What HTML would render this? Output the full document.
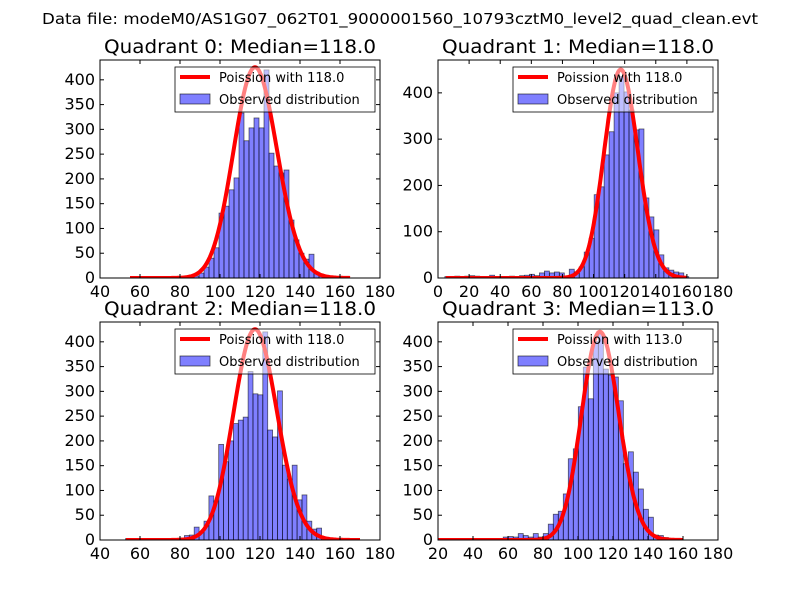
<!DOCTYPE html>
<html><head><meta charset="utf-8"><style>
body{margin:0;background:#fff}
svg{display:block}
text{font-family:"DejaVu Sans","Liberation Sans",sans-serif}
</style></head><body>
<svg id="fig" width="800" height="600" viewBox="0 0 800 600">
<rect width="800" height="600" fill="#fff"/>
<text x="400" y="24" font-size="15" text-anchor="middle" textLength="716" lengthAdjust="spacingAndGlyphs">Data file: modeM0/AS1G07_062T01_9000001560_10793cztM0_level2_quad_clean.evt</text>
</svg>
<script>
// Quadrant 0
const q0Start = 57, q0Width = 2.5;
const q0Counts = [2,0,1,3,1,0,2,1,3,2,4,3,4,10,22,40,61,131,145,178,202,333,277,303,323,303,420,252,226,212,218,117,77,50,38,48,12,6,2];
// Quadrant 1
const q1Start = 4.4, q1Width = 3.2;
const q1Counts = [3,2,4,1,4,5,4,2,0,6,3,2,1,4,3,5,6,8,5,11,15,11,13,11,4,19,13,24,56,86,180,197,266,316,400,435,402,363,320,322,173,132,104,50,22,17,13,11,3];
// Quadrant 2
const q2Start = 52.8, q2Width = 2.45;
const q2Counts = [3,2,1,2,1,3,2,1,2,3,1,4,9,10,26,16,38,89,79,193,158,200,235,242,248,340,295,293,420,222,208,301,151,123,151,81,91,38,22,24,4,2,1];
// Quadrant 3
const q3Start = 20.1, q3Width = 2.86;
const q3Counts = [2,1,1,2,1,1,2,1,1,2,1,2,1,6,7,6,13,9,6,13,6,13,32,52,58,93,164,184,269,349,285,400,416,345,333,329,281,154,178,137,103,62,46,10,9,5];
// model
const medians = [118, 118, 118, 113];
const peakCounts = [425, 450, 425, 420];
const curveRanges = [[55,165],[5,160],[53,170],[20,160]];
const titles = ["Quadrant 0: Median=118.0","Quadrant 1: Median=118.0","Quadrant 2: Median=118.0","Quadrant 3: Median=113.0"];
const xTicks = [[40,60,80,100,120,140,160,180],[0,20,40,60,80,100,120,140,160,180],[40,60,80,100,120,140,160,180],[20,40,60,80,100,120,140,160,180]];
const yTicks = [[0,50,100,150,200,250,300,350,400],[0,100,200,300,400],[0,50,100,150,200,250,300,350,400],[0,50,100,150,200,250,300,350,400]];
const xDomains = [[40,180],[0,180],[40,180],[20,180]];
const yMax = [440, 471, 440, 440];

const NS = "http://www.w3.org/2000/svg";
const fig = document.getElementById('fig');
function mk(tag, attrs, parent){const e=document.createElementNS(NS,tag);for(const k in attrs)e.setAttribute(k,attrs[k]);(parent||fig).appendChild(e);return e;}
function logPois(k,m){
  function lgamma(z){return (z-0.5)*Math.log(z)-z+0.5*Math.log(2*Math.PI)+1/(12*z);}
  return k*Math.log(m)-m-lgamma(k+1);
}
const boxes = [[100,60,380,278],[438,60,718,278],[100,322,380,540],[438,322,718,540]];
const data = [[q0Start,q0Width,q0Counts],[q1Start,q1Width,q1Counts],[q2Start,q2Width,q2Counts],[q3Start,q3Width,q3Counts]];

for(let p=0;p<4;p++){
  const [L,T,R,B]=boxes[p];
  const [x0,x1]=xDomains[p];
  const sx=v=>L+(v-x0)/(x1-x0)*(R-L);
  const sy=v=>B-v/yMax[p]*(B-T);
  const g=mk('g',{});
  
  
  const t=mk('text',{x:(L+R)/2,y:T-7,'font-size':19,'text-anchor':'middle',textLength:272,lengthAdjust:'spacingAndGlyphs'},g);
  t.textContent=titles[p];
  
  
  const clip=mk('clipPath',{id:'c'+p},g);mk('rect',{x:L,y:T,width:R-L,height:B-T},clip);
  const bars=mk('g',{'clip-path':'url(#c'+p+')'},g);
  const [st,w,cnt]=data[p];
  cnt.forEach((c,i)=>{
    const a=st+i*w;
    const r=mk('rect',{x:sx(a),y:sy(c),width:sx(a+w)-sx(a),height:sy(0)-sy(c),fill:'rgba(0,0,255,0.5)',stroke:'rgba(0,0,0,0.6)','stroke-width':0.8},bars);
    
    
  });
  const m=medians[p];const peak=Math.exp(logPois(m,m));
  let d='';
  for(let k=curveRanges[p][0];k<=curveRanges[p][1];k+=0.5){
    const v=Math.exp(logPois(k,m))/peak*peakCounts[p];
    d+=(d?'L':'M')+sx(k).toFixed(1)+','+sy(v).toFixed(1);
  }
  const ln=mk('path',{d:d,fill:'none',stroke:'#f00','stroke-width':4,'stroke-linejoin':'round'},bars);
  
  
  const fr=mk('rect',{x:L,y:T,width:R-L,height:B-T,fill:'none',stroke:'#000','stroke-width':1},g);
  
  
  xTicks[p].forEach(v=>{
    const x=sx(v);
    mk('line',{x1:x,x2:x,y1:B,y2:B-4,stroke:'#000'},g);
    mk('line',{x1:x,x2:x,y1:T,y2:T+4,stroke:'#000'},g);
    const tl=mk('text',{x:x,y:B+19,'font-size':16,'text-anchor':'middle'},g);
    tl.textContent=v;
    
    
  });
  yTicks[p].forEach(v=>{
    const y=sy(v);
    mk('line',{x1:L,x2:L+4,y1:y,y2:y,stroke:'#000'},g);
    mk('line',{x1:R,x2:R-4,y1:y,y2:y,stroke:'#000'},g);
    const tl=mk('text',{x:L-5,y:y+5,'font-size':16,'text-anchor':'end'},g);
    tl.textContent=v;
    
    
  });
  const lx=L+75, ly=T+7;
  const lg=mk('g',{},g);
  
  
  mk('rect',{x:lx,y:ly,width:200,height:45,fill:'rgba(255,255,255,0.5)',stroke:'#000','stroke-width':0.8},lg);
  mk('line',{x1:lx+5,x2:lx+35,y1:ly+10,y2:ly+10,stroke:'#f00','stroke-width':4},lg);
  const l1=mk('text',{x:lx+44,y:ly+15,'font-size':13},lg);
  l1.textContent='Poission with '+m.toFixed(1);
  
  
  mk('rect',{x:lx+5,y:ly+27,width:30,height:10,fill:'rgba(0,0,255,0.5)',stroke:'rgba(0,0,0,0.7)','stroke-width':0.8},lg);
  const l2=mk('text',{x:lx+44,y:ly+37,'font-size':13},lg);
  l2.textContent='Observed distribution';
  
  
}
</script>
</body></html>
